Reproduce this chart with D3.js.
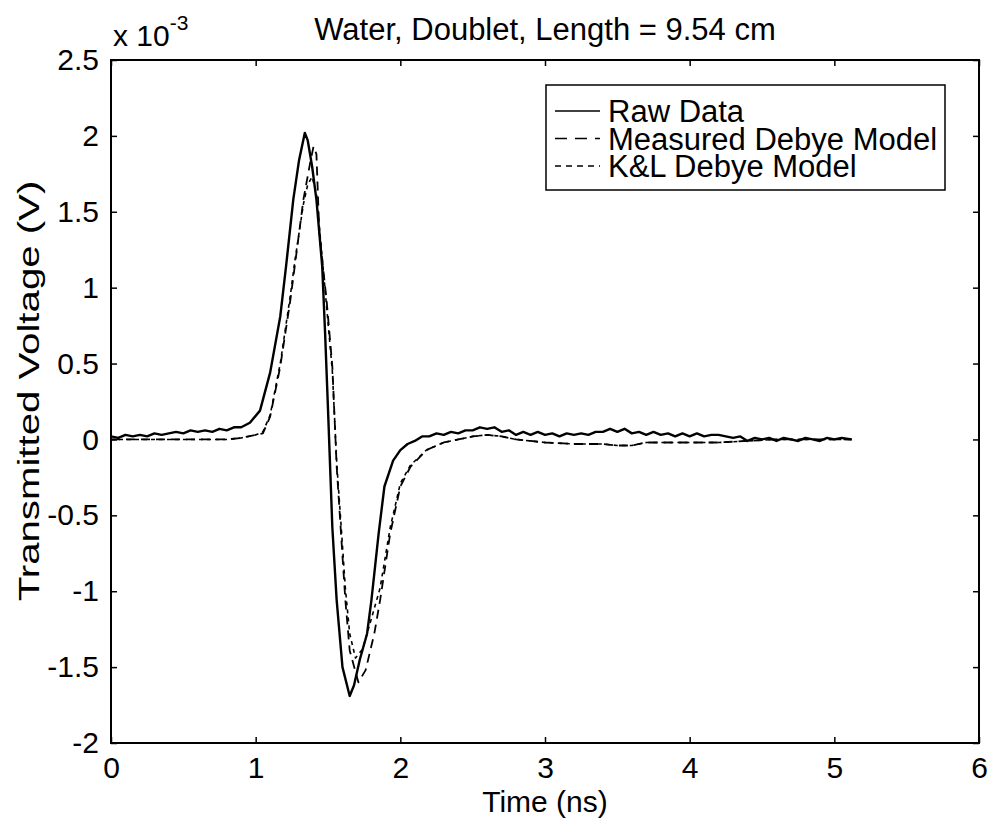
<!DOCTYPE html>
<html>
<head>
<meta charset="utf-8">
<script src="https://cdn.jsdelivr.net/npm/d3@7"></script>
<style>
	body { margin: 0; background: #fff; }
	text { font-family: "Liberation Sans", Arial, Helvetica, sans-serif; fill: #000; }
</style>
</head>
<body>
<svg id="chart" width="991" height="824"></svg>
<script>
// values are in units of 1e-3 V, time in ns
var rawTime = [0, 0.05, 0.1, 0.15, 0.2, 0.25, 0.3, 0.35, 0.4, 0.45, 0.5, 0.55, 0.6, 0.65, 0.7, 0.75, 0.8, 0.85, 0.9, 0.96,
	1.03, 1.10, 1.17, 1.21, 1.26, 1.30, 1.34, 1.36, 1.39, 1.42, 1.46, 1.48, 1.50, 1.53, 1.56, 1.60, 1.65, 1.68, 1.72, 1.77,
	1.80, 1.85, 1.89, 1.95, 2.0, 2.05, 2.1, 2.15, 2.2, 2.25, 2.3, 2.35, 2.4, 2.45, 2.5, 2.55, 2.6, 2.65, 2.7, 2.75,
	2.8, 2.85, 2.9, 2.95, 3.0, 3.05, 3.1, 3.15, 3.2, 3.25, 3.3, 3.35, 3.4, 3.45, 3.5, 3.55, 3.6, 3.65, 3.7, 3.75,
	3.8, 3.85, 3.9, 3.95, 4.0, 4.05, 4.1, 4.15, 4.2, 4.25, 4.3, 4.35, 4.4, 4.45, 4.5, 4.55, 4.6, 4.65, 4.7, 4.75,
	4.8, 4.85, 4.9, 4.95, 5.0, 5.05, 5.12];
var rawData = [0.02, 0.01, 0.03, 0.02, 0.03, 0.02, 0.04, 0.03, 0.04, 0.05, 0.04, 0.06, 0.05, 0.06, 0.05, 0.07, 0.06, 0.08, 0.08, 0.11,
	0.19, 0.44, 0.81, 1.14, 1.58, 1.84, 2.02, 1.97, 1.80, 1.58, 1.14, 0.70, 0.20, -0.58, -1.06, -1.50, -1.69, -1.62, -1.45, -1.28,
	-1.06, -0.62, -0.31, -0.14, -0.07, -0.03, -0.01, 0.02, 0.02, 0.04, 0.03, 0.05, 0.04, 0.06, 0.06, 0.08, 0.07, 0.08, 0.05, 0.06,
	0.03, 0.05, 0.03, 0.05, 0.03, 0.04, 0.02, 0.04, 0.03, 0.04, 0.03, 0.05, 0.05, 0.07, 0.05, 0.07, 0.04, 0.05, 0.03, 0.05,
	0.03, 0.04, 0.02, 0.04, 0.02, 0.04, 0.02, 0.03, 0.03, 0.02, 0.01, 0.02, -0.01, 0.01, 0.0, 0.01, -0.01, 0.01, 0.0, -0.01,
	0.01, 0.0, -0.01, 0.01, 0.0, 0.01, 0.0];

var measTime = [0, 0.5, 0.8, 0.9, 0.95, 1.0, 1.05, 1.10, 1.17, 1.24, 1.27, 1.33, 1.38, 1.40, 1.42, 1.44, 1.49, 1.53, 1.56, 1.59,
	1.62, 1.65, 1.71, 1.76, 1.82, 1.86, 1.93, 2.0, 2.07, 2.18, 2.3, 2.4, 2.5, 2.6, 2.7, 2.8, 2.9, 3.0, 3.2, 3.4,
	3.5, 3.6, 3.7, 3.8, 4.0, 4.2, 4.4, 4.6, 4.8, 5.0, 5.12];
var measData = [0, 0, 0.0, 0.01, 0.02, 0.03, 0.04, 0.15, 0.48, 0.92, 1.14, 1.58, 1.84, 1.93, 1.88, 1.36, 0.92, 0.48, -0.18, -0.62,
	-1.06, -1.39, -1.60, -1.52, -1.28, -1.06, -0.62, -0.31, -0.18, -0.07, -0.02, 0.0, 0.02, 0.03, 0.02, 0.0, -0.01, -0.02, -0.03, -0.03,
	-0.04, -0.04, -0.02, -0.02, -0.02, -0.02, -0.01, 0.0, 0.0, 0.0, 0.0];

var klTime = [0, 0.5, 0.8, 0.9, 0.95, 1.0, 1.05, 1.10, 1.17, 1.24, 1.27, 1.33, 1.36, 1.39, 1.42, 1.45, 1.49, 1.53, 1.56, 1.59,
	1.62, 1.65, 1.69, 1.74, 1.80, 1.86, 1.93, 2.0, 2.07, 2.18, 2.3, 2.4, 2.5, 2.6, 2.7, 2.8, 2.9, 3.0, 3.2, 3.4,
	3.5, 3.6, 3.7, 3.8, 4.0, 4.2, 4.4, 4.6, 4.8, 5.0, 5.12];
var klData = [0, 0, 0, 0.01, 0.02, 0.03, 0.05, 0.16, 0.50, 0.95, 1.17, 1.55, 1.68, 1.73, 1.62, 1.30, 0.88, 0.45, -0.15, -0.56,
	-0.98, -1.28, -1.44, -1.38, -1.18, -0.98, -0.58, -0.29, -0.17, -0.07, -0.02, 0.0, 0.02, 0.03, 0.02, 0.0, -0.01, -0.02, -0.03, -0.03,
	-0.04, -0.04, -0.02, -0.02, -0.02, -0.02, -0.01, 0, 0, 0, 0];

var seriesNames = ["Raw Data", "Measured Debye Model", "K&L Debye Model"];
var xTicks = [0, 1, 2, 3, 4, 5, 6];
var yTicks = [-2, -1.5, -1, -0.5, 0, 0.5, 1, 1.5, 2, 2.5];

var svg = d3.select("#chart"),
	margin = {left: 111, top: 60, right: 12, bottom: 81},
	width = +svg.attr("width") - margin.left - margin.right,
	height = +svg.attr("height") - margin.top - margin.bottom,
	g = svg.append("g").attr("transform", "translate(" + margin.left + "," + margin.top + ")");

var x = d3.scaleLinear().domain([0, 6]).range([0, width]);
var y = d3.scaleLinear().domain([-2, 2.5]).range([height, 0]);

// matlab style labels use a plain hyphen
var fmt = function(d) { return String(d); };

// ticks inside on all four sides
g.append("g")
	.attr("transform", "translate(0," + height + ")")
	.call(d3.axisBottom(x).tickValues(xTicks).tickSizeInner(-6).tickSizeOuter(0).tickPadding(14).tickFormat(fmt));
g.append("g")
	.call(d3.axisTop(x).tickValues(xTicks).tickSizeInner(-6).tickSizeOuter(0).tickFormat(""));
g.append("g")
	.call(d3.axisLeft(y).tickValues(yTicks).tickSizeInner(-6).tickSizeOuter(0).tickPadding(12).tickFormat(fmt));
g.append("g")
	.attr("transform", "translate(" + width + ",0)")
	.call(d3.axisRight(y).tickValues(yTicks).tickSizeInner(-6).tickSizeOuter(0).tickFormat(""));

g.selectAll(".domain").remove();
g.selectAll(".tick line").attr("stroke", "#000").attr("stroke-width", 1.5);
g.selectAll(".tick text").style("font-size", "30px").attr("fill", "#000");

g.append("rect")
	.attr("width", width)
	.attr("height", height)
	.attr("fill", "none")
	.attr("stroke", "#000")
	.attr("stroke-width", 2);

var line = d3.line()
	.x(function(d) { return x(d[0]); })
	.y(function(d) { return y(d[1]); });

var series = [
	{name: seriesNames[0], pts: d3.zip(rawTime, rawData), dash: null, legDash: null, w: 2.4},
	{name: seriesNames[1], pts: d3.zip(measTime, measData), dash: "9,6", legDash: "12,8", w: 1.8},
	{name: seriesNames[2], pts: d3.zip(klTime, klData), dash: "4,4", legDash: "6,5", w: 1.6}
];

g.selectAll("path.series")
	.data(series)
	.enter().append("path")
		.attr("class", "series")
		.attr("d", function(d) { return line(d.pts); })
		.attr("fill", "none")
		.attr("stroke", "#000")
		.attr("stroke-width", function(d) { return d.w; })
		.attr("stroke-linejoin", "round")
		.attr("stroke-dasharray", function(d) { return d.dash; });

// legend
var leg = g.append("g").attr("transform", "translate(" + (546 - margin.left) + "," + (85 - margin.top) + ")");
leg.append("rect")
	.attr("width", 399)
	.attr("height", 105)
	.attr("fill", "#fff")
	.attr("stroke", "#000")
	.attr("stroke-width", 1.5);
var item = leg.selectAll("g.item")
	.data(series)
	.enter().append("g")
		.attr("class", "item")
		.attr("transform", function(d, i) { return "translate(0," + (26 + i * 27.5) + ")"; });
item.append("line")
	.attr("x1", 9).attr("x2", 54)
	.attr("stroke", "#000")
	.attr("stroke-width", 1.6)
	.attr("stroke-dasharray", function(d) { return d.legDash; });
item.append("text")
	.attr("x", 62)
	.attr("y", 11)
	.style("font-size", "31px")
	.text(function(d) { return d.name; });

// title, labels, exponent
svg.append("text")
	.attr("x", margin.left + width / 2)
	.attr("y", 40)
	.attr("text-anchor", "middle")
	.style("font-size", "31px")
	.text("Water, Doublet, Length = 9.54 cm");

svg.append("text")
	.attr("x", margin.left + width / 2)
	.attr("y", 812)
	.attr("text-anchor", "middle")
	.style("font-size", "30px")
	.text("Time (ns)");

svg.append("text")
	.attr("transform", "translate(39,391) rotate(-90) scale(1.34,1)")
	.attr("text-anchor", "middle")
	.style("font-size", "30px")
	.text("Transmitted Voltage (V)");

var expo = svg.append("text")
	.attr("x", 113)
	.attr("y", 46)
	.style("font-size", "30px");
expo.append("tspan").text("x 10");
expo.append("tspan").attr("dy", -16).style("font-size", "21px").text("-3");
</script>
</body>
</html>
